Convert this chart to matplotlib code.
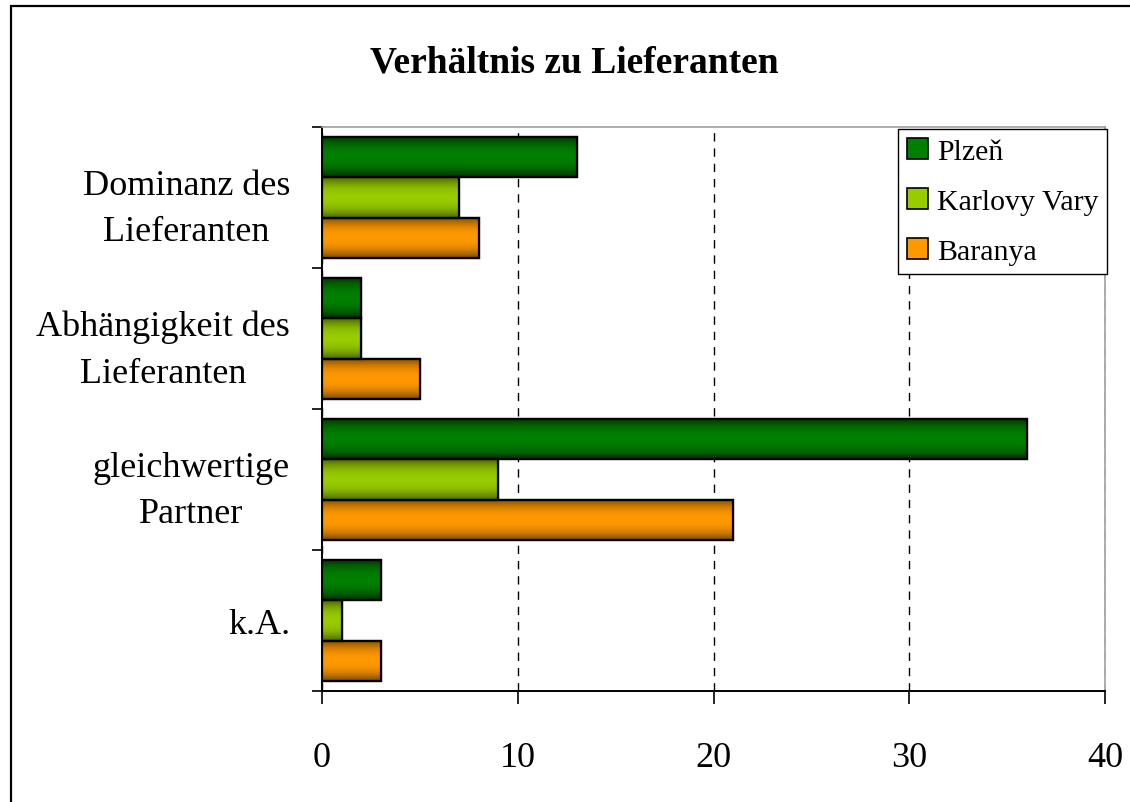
import numpy as np
import matplotlib
matplotlib.use("Agg")
import matplotlib.pyplot as plt
from matplotlib.patches import Rectangle
from matplotlib.colors import to_rgb

# Data
categories = ["Dominanz des\nLieferanten", "Abhängigkeit des\nLieferanten",
              "gleichwertige\nPartner", "k.A."]
series = ["Plzeň", "Karlovy Vary", "Baranya"]
plzen = [13, 2, 36, 3]
karlovy_vary = [7, 2, 9, 1]
baranya = [8, 5, 21, 3]
x_ticks = [0, 10, 20, 30, 40]

values = [plzen, karlovy_vary, baranya]
center_colors = ["#008000", "#99cc00", "#ff9900"]
edge_colors = ["#003000", "#4a6400", "#7a4800"]

plt.rcParams['font.family'] = ['Liberation Serif', 'DejaVu Serif']

fig = plt.figure(figsize=(11.30, 8.03), dpi=100)
ax = fig.add_axes([0.2850, 0.1382, 0.6929, 0.7024])

# outer frame
fig.add_artist(Rectangle((11 / 1130, -0.05), 1.2, 1 - 7 / 803 + 0.05,
                         transform=fig.transFigure, fill=False,
                         edgecolor="black", lw=1.6, clip_on=False))


def gradient_img(c_center, c_edge, n=64):
    t = np.linspace(0, 1, n)
    f = 1 - np.abs(2 * t - 1) ** 2.2
    cc = np.array(to_rgb(c_center))
    ce = np.array(to_rgb(c_edge))
    img = ce[None, :] + (cc - ce)[None, :] * f[:, None]
    return img[:, None, :]


y = np.arange(len(categories))
h = 0.285
offsets = [-h, 0, h]
for vals, off, cc, ce in zip(values, offsets, center_colors, edge_colors):
    bars = ax.barh(y + off, vals, height=h, color=cc, edgecolor="black",
                   linewidth=1.6, zorder=3)
    img = gradient_img(cc, ce)
    for b in bars:
        x0, y0 = b.get_x(), b.get_y()
        w, hh = b.get_width(), b.get_height()
        im = ax.imshow(img, extent=[x0, x0 + w, y0 + hh, y0], aspect="auto",
                       interpolation="bilinear", zorder=3.5)
        im.set_clip_path(b)
        edge = Rectangle((x0, y0), w, hh, fill=False, edgecolor="black",
                         linewidth=1.6, zorder=4)
        ax.add_patch(edge)

ax.set_xlim(0, 40)
ax.set_ylim(3.5, -0.5)

ax.set_xticks(x_ticks)
ax.set_xticklabels([str(v) for v in x_ticks], fontsize=26)
ax.tick_params(axis="x", length=9, width=1.2, pad=27, direction="out")

ax.set_yticks([-0.5, 0.5, 1.5, 2.5, 3.5])
ax.set_yticklabels([])
ax.tick_params(axis="y", which="major", length=7, width=1.2, direction="out")
ax.set_yticks(y, minor=True)
ax.set_yticklabels(categories, minor=True, fontsize=26, ha="right",
                   multialignment="center", linespacing=1.55)
ax.tick_params(axis="y", which="minor", length=0, pad=23)

ax.grid(axis="x", color="black", linestyle=(0, (6, 5)), linewidth=1.0, zorder=1)
ax.set_axisbelow(True)

for s in ["left", "bottom"]:
    ax.spines[s].set_color("black")
    ax.spines[s].set_linewidth(1.4)
for s in ["top", "right"]:
    ax.spines[s].set_color("#a0a0a0")
    ax.spines[s].set_linewidth(1.2)

handles = [Rectangle((0, 0), 1, 1, facecolor=c, edgecolor="black", lw=1.2)
           for c in center_colors]
leg = ax.legend(handles, series, loc="upper right", bbox_to_anchor=(1.003, 0.997),
                fontsize=21.5, frameon=True, fancybox=False, framealpha=1,
                edgecolor="black", handlelength=0.7, handleheight=0.7,
                handletextpad=0.3, labelspacing=0.78, borderpad=0.3,
                borderaxespad=0)
leg.get_frame().set_linewidth(1.0)
leg.set_zorder(10)

fig.text(0.508, 0.921, "Verhältnis zu Lieferanten", fontsize=27,
         fontweight="bold", ha="center", va="center")

fig.savefig("out.png", dpi=100)
